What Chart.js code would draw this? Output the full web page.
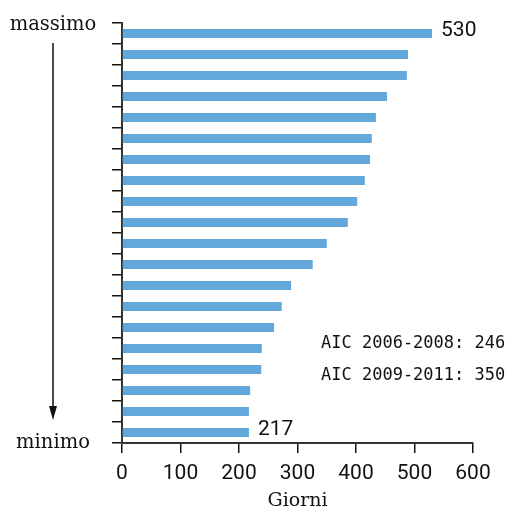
<!DOCTYPE html>
<html>
<head>
<meta charset="utf-8">
<script src="https://cdn.jsdelivr.net/npm/chart.js@4.4.0/dist/chart.umd.min.js"></script>
<style>
  html, body { margin: 0; padding: 0; background: #fff; }
  #wrap { width: 506px; height: 510px; }
</style>
</head>
<body>
<div id="wrap"><canvas id="myChartGiorni"></canvas></div>
<script>
// ranking positions, top = massimo, bottom = minimo
const ranks = ['1', '2', '3', '4', '5', '6', '7', '8', '9', '10',
  '11', '12', '13', '14', '15', '16', '17', '18', '19', '20'];

const giorni = [530, 489, 487, 453, 434, 427, 424, 415, 402, 386,
  350, 326, 289, 273, 260, 239, 238, 219, 217, 217];

const xTicks = [0, 100, 200, 300, 400, 500, 600];

const notes = ['AIC 2006-2008: 246', 'AIC 2009-2011: 350'];

const topLabel = 'massimo';
const bottomLabel = 'minimo';
const axisTitle = 'Giorni';

const tickFont = { family: 'Roboto', size: 21 };

// labels, arrow and notes drawn on top of the chart
const extras = {
  id: 'extras',
  afterDraw(chart) {
    const ctx = chart.ctx;
    const meta = chart.getDatasetMeta(0);
    ctx.save();

    // value labels on the highest and lowest bars
    const iMax = giorni.indexOf(Math.max(...giorni));
    const iMin = giorni.lastIndexOf(Math.min(...giorni));
    ctx.font = '21px Roboto';
    ctx.fillStyle = '#111';
    ctx.textAlign = 'left';
    ctx.textBaseline = 'middle';
    [iMax, iMin].forEach(i => {
      const bar = meta.data[i];
      ctx.fillText(String(giorni[i]), bar.x + 9, bar.y - 3);
    });

    // notes
    ctx.font = '17px "DejaVu Sans Mono"';
    ctx.textBaseline = 'alphabetic';
    notes.forEach((t, k) => {
      ctx.fillText(t, 321, 348 + k * 31.5);
    });

    // massimo / minimo with arrow
    const ax = 53;
    ctx.font = '19.5px "DejaVu Serif"';
    ctx.textAlign = 'center';
    ctx.fillText(topLabel, ax, 29.5);
    ctx.fillText(bottomLabel, ax, 448);

    ctx.strokeStyle = '#111';
    ctx.lineWidth = 1.5;
    ctx.beginPath();
    ctx.moveTo(ax, 43);
    ctx.lineTo(ax, 410);
    ctx.stroke();
    ctx.beginPath();
    ctx.moveTo(ax - 4, 406);
    ctx.lineTo(ax + 4, 406);
    ctx.lineTo(ax, 420);
    ctx.closePath();
    ctx.fillStyle = '#111';
    ctx.fill();

    ctx.restore();
  }
};

const chartData = {
  labels: ranks,
  datasets: [{
    label: axisTitle,
    data: giorni,
    backgroundColor: '#63a8db',
    borderWidth: 0,
    barPercentage: 0.43,
    categoryPercentage: 1
  }]
};

const config = {
  type: 'bar',
  data: chartData,
  plugins: [extras],
  options: {
    indexAxis: 'y',
    responsive: true,
    maintainAspectRatio: false,
    animation: false,
    layout: { padding: { left: 112, top: 23, right: 33, bottom: 0 } },
    plugins: {
      legend: { display: false },
      tooltip: { enabled: false }
    },
    scales: {
      x: {
        min: 0,
        max: 600,
        afterBuildTicks: (scale) => { scale.ticks = xTicks.map(v => ({ value: v })); },
        afterFit: (scale) => { scale.height = 67; },
        grid: { drawOnChartArea: false, drawTicks: true, tickLength: 10, color: '#111', lineWidth: 1.5 },
        border: { display: true, color: '#333', width: 2 },
        ticks: { font: tickFont, color: '#111', padding: 8, maxRotation: 0 },
        title: {
          display: true,
          text: axisTitle,
          color: '#111',
          font: { family: 'DejaVu Serif', size: 19, lineHeight: 0.9 },
          padding: { top: 0, bottom: 0 }
        }
      },
      y: {
        afterFit: (scale) => { scale.width = 10; },
        grid: { drawOnChartArea: false, drawTicks: true, tickLength: 10, color: '#111', lineWidth: 1.5, offset: true },
        border: { display: true, color: '#333', width: 2 },
        ticks: { display: false }
      }
    }
  }
};

const myChart = new Chart(document.getElementById('myChartGiorni'), config);
</script>
</body>
</html>
